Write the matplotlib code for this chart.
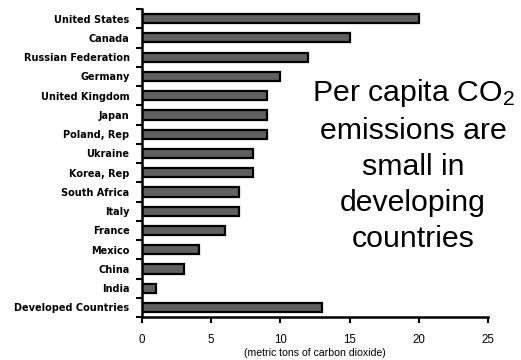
import numpy as np
import matplotlib
matplotlib.use('Agg')
import matplotlib.pyplot as plt

plt.rcParams['font.family'] = ['Liberation Sans', 'DejaVu Sans']
plt.rcParams['mathtext.fontset'] = 'custom'
plt.rcParams['mathtext.rm'] = 'Liberation Sans'
plt.rcParams['mathtext.it'] = 'Liberation Sans'

paises = ['United States', 'Canada', 'Russian Federation', 'Germany',
          'United Kingdom', 'Japan', 'Poland, Rep', 'Ukraine', 'Korea, Rep',
          'South Africa', 'Italy', 'France', 'Mexico', 'China', 'India',
          'Developed Countries']
emisiones = [20, 15, 12, 10, 9, 9, 9, 8, 8, 7, 7, 6, 4.1, 3.0, 1.0, 13]
xticks = [0, 5, 10, 15, 20, 25]

fig = plt.figure(figsize=(5.21, 3.6), dpi=100)
ax = fig.add_axes([0.2726, 0.1194, 0.6641, 0.8556])

y = np.arange(len(paises))
ax.barh(y, emisiones, height=0.48, color='#606060', edgecolor='black',
        linewidth=1.6)
ax.set_ylim(len(paises) - 0.5, -0.5)
ax.set_xlim(0, 25)

ax.set_yticks(y)
ax.set_yticklabels(paises, fontsize=7.0, fontweight='bold',
                   family='DejaVu Sans')
ax.tick_params(axis='y', which='major', length=0, pad=9)
ax.set_yticks(np.arange(len(paises) + 1) - 0.5, minor=True)
ax.tick_params(axis='y', which='minor', length=4, width=1.5, direction='out')

ax.set_xticks(xticks)
ax.set_xticklabels([str(t) for t in xticks], fontsize=8.3)
ax.tick_params(axis='x', length=4, width=1.5, direction='out', pad=8)
ax.set_xlabel('(metric tons of carbon dioxide)', fontsize=7.6, labelpad=2)

for s in ['top', 'right']:
    ax.spines[s].set_visible(False)
for s in ['left', 'bottom']:
    ax.spines[s].set_linewidth(1.8)

fig.text(0.793, 0.542,
         'Per capita CO$_2$\nemissions are\nsmall in\ndeveloping\ncountries',
         ha='center', va='center', fontsize=21.8, linespacing=1.37)

fig.savefig('out.png', dpi=100)
